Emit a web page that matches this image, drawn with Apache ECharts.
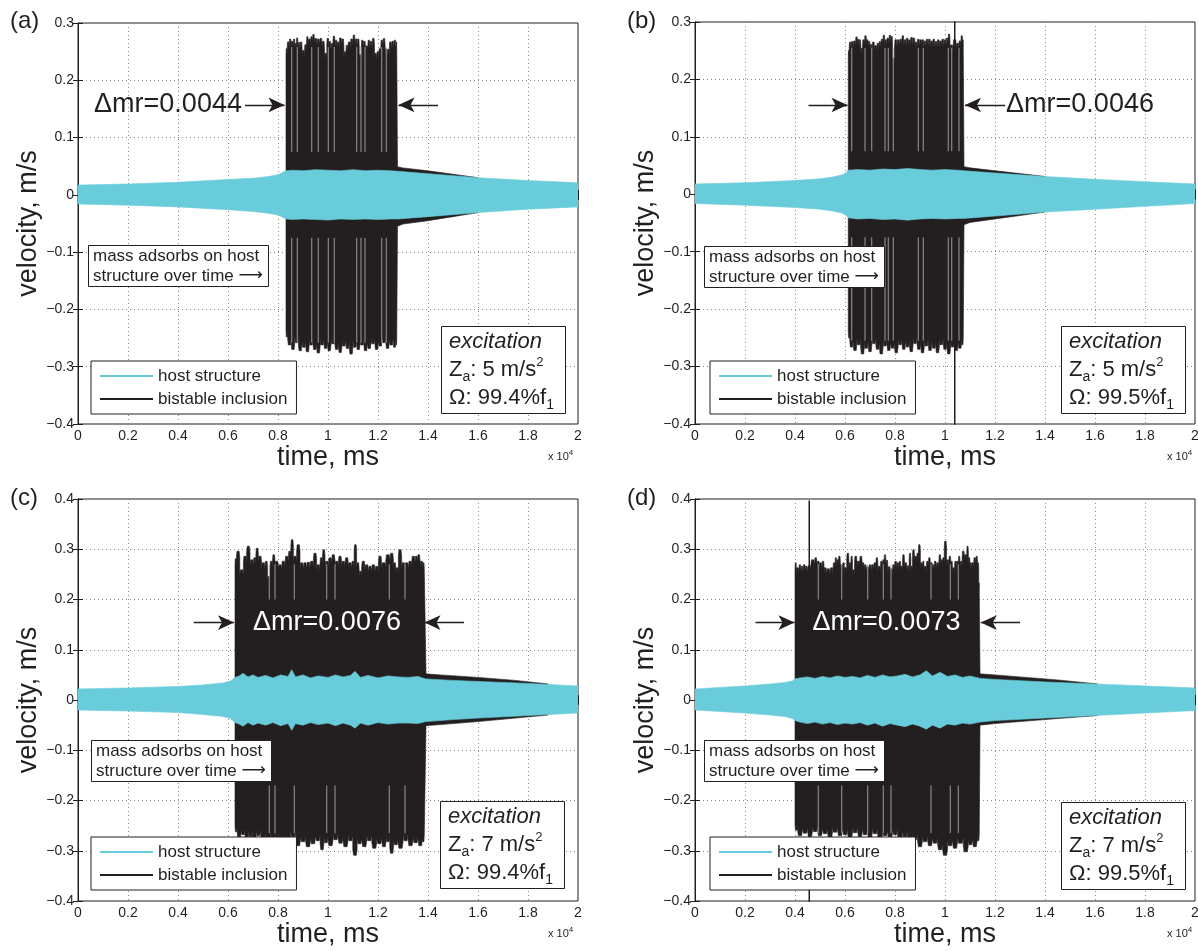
<!DOCTYPE html>
<html><head><meta charset="utf-8">
<script src="https://cdn.jsdelivr.net/npm/echarts/dist/echarts.min.js"></script>
<style>html,body{margin:0;padding:0;background:#fff}#chart{width:1198px;height:951px}</style>
</head><body><div id="chart"></div>
<script>
// ---------- DATA (time in units of 1e4 ms, velocity in m/s) ----------
// Panel (a)
const A_hostX  = [0,0.2,0.4,0.6,0.7,0.76,0.8,0.815,0.83,0.86,0.9,0.95,1.0,1.05,1.1,1.15,1.2,1.25,1.28,1.4,1.6,1.8,2.0];
const A_hostUp = [0.017,0.019,0.022,0.027,0.029,0.032,0.035,0.038,0.042,0.043,0.042,0.044,0.043,0.042,0.044,0.042,0.043,0.042,0.041,0.037,0.030,0.025,0.021];
const A_hostLo = [-0.016,-0.018,-0.021,-0.026,-0.029,-0.032,-0.035,-0.038,-0.042,-0.043,-0.042,-0.043,-0.044,-0.042,-0.043,-0.042,-0.043,-0.042,-0.042,-0.038,-0.031,-0.025,-0.021];
const A_burstX  = [0.832,0.841,0.848,0.857,0.865,0.871,0.876,0.884,0.892,0.901,0.911,0.917,0.925,0.935,0.941,0.951,0.961,0.972,0.981,0.991,0.999,1.008,1.015,1.024,1.032,1.041,1.049,1.059,1.068,1.075,1.084,1.095,1.104,1.112,1.121,1.129,1.137,1.145,1.155,1.163,1.172,1.181,1.191,1.199,1.207,1.215,1.224,1.233,1.241,1.249,1.259,1.268,1.275];
const A_burstUp = [0.255,0.267,0.272,0.268,0.272,0.264,0.274,0.266,0.267,0.252,0.262,0.276,0.272,0.276,0.280,0.273,0.272,0.273,0.268,0.247,0.273,0.268,0.264,0.277,0.270,0.267,0.274,0.272,0.250,0.261,0.267,0.272,0.279,0.272,0.272,0.245,0.270,0.268,0.260,0.270,0.268,0.273,0.247,0.250,0.255,0.270,0.273,0.255,0.254,0.267,0.268,0.270,0.267];
const A_burstLoX = [0.832,0.845,0.86,0.874,0.889,0.903,0.918,0.932,0.947,0.961,0.976,0.99,1.005,1.02,1.034,1.049,1.063,1.078,1.092,1.107,1.121,1.136,1.15,1.165,1.18,1.194,1.209,1.224,1.238,1.253,1.268,1.275];
const A_burstLo  = [-0.248,-0.262,-0.270,-0.258,-0.272,-0.266,-0.274,-0.262,-0.270,-0.276,-0.262,-0.268,-0.272,-0.260,-0.270,-0.275,-0.264,-0.268,-0.278,-0.266,-0.270,-0.262,-0.272,-0.268,-0.260,-0.270,-0.264,-0.258,-0.268,-0.262,-0.266,-0.262];
const A_tailX  = [1.278,1.3,1.4,1.5,1.6];
const A_tailUp = [0.049,0.047,0.042,0.036,0.030];
const A_tailLo = [-0.055,-0.051,-0.045,-0.038,-0.031];
const A_streakX = [0.855,0.877,0.935,0.961,1.001,1.025,1.115,1.132,1.148,1.215,1.233];
const A_streakSpan = [0.258,0.075,-0.075,-0.258];

// Panel (b)
const B_hostX  = [0,0.2,0.4,0.5,0.55,0.59,0.605,0.613,0.65,0.7,0.75,0.8,0.85,0.9,0.95,1.0,1.05,1.075,1.2,1.4,1.6,1.8,2.0];
const B_hostUp = [0.018,0.020,0.024,0.027,0.030,0.034,0.038,0.042,0.043,0.042,0.044,0.043,0.045,0.043,0.042,0.043,0.042,0.041,0.037,0.031,0.026,0.022,0.018];
const B_hostLo = [-0.016,-0.019,-0.023,-0.026,-0.029,-0.033,-0.037,-0.041,-0.043,-0.042,-0.044,-0.043,-0.045,-0.043,-0.042,-0.043,-0.042,-0.042,-0.038,-0.031,-0.026,-0.021,-0.016];
const B_burstX  = [0.613,0.62,0.629,0.637,0.647,0.653,0.66,0.667,0.673,0.683,0.689,0.697,0.704,0.713,0.723,0.731,0.74,0.747,0.756,0.763,0.771,0.78,0.787,0.793,0.803,0.813,0.823,0.831,0.84,0.849,0.856,0.867,0.876,0.884,0.893,0.903,0.911,0.92,0.928,0.937,0.947,0.955,0.964,0.973,0.981,0.991,1.0,1.009,1.016,1.024,1.04,1.051,1.059,1.068,1.073];
const B_burstUp = [0.25,0.265,0.266,0.267,0.274,0.27,0.269,0.254,0.269,0.276,0.269,0.266,0.261,0.265,0.259,0.263,0.266,0.27,0.277,0.269,0.272,0.277,0.275,0.237,0.269,0.269,0.27,0.276,0.269,0.272,0.269,0.273,0.272,0.265,0.27,0.269,0.269,0.267,0.27,0.27,0.267,0.27,0.266,0.269,0.267,0.27,0.269,0.272,0.279,0.26,0.269,0.263,0.267,0.276,0.269];
const B_burstLoX = [0.613,0.625,0.64,0.655,0.67,0.685,0.70,0.715,0.73,0.745,0.76,0.775,0.79,0.805,0.82,0.835,0.85,0.865,0.88,0.895,0.91,0.925,0.94,0.955,0.97,0.985,1.0,1.015,1.03,1.045,1.06,1.073];
const B_burstLo  = [-0.25,-0.266,-0.272,-0.262,-0.278,-0.268,-0.274,-0.26,-0.27,-0.278,-0.264,-0.272,-0.268,-0.276,-0.262,-0.27,-0.266,-0.274,-0.26,-0.27,-0.276,-0.264,-0.272,-0.268,-0.276,-0.262,-0.27,-0.278,-0.266,-0.272,-0.268,-0.262];
const B_tailX  = [1.076,1.1,1.2,1.3,1.4];
const B_tailUp = [0.048,0.046,0.041,0.036,0.031];
const B_tailLo = [-0.053,-0.049,-0.043,-0.037,-0.031];
const B_spikeX = [1.039,1.039];
const B_spikeY = [0.35,-0.45];
const B_streakX = [0.627,0.68,0.707,0.76,0.773,0.793,0.893,0.913,1.013,1.027,1.056];
const B_streakSpan = [0.255,0.075,-0.075,-0.255];

// Panel (c)
const C_hostX  = [0,0.2,0.4,0.5,0.58,0.61,0.628,0.645,0.66,0.68,0.7,0.72,0.75,0.78,0.81,0.84,0.855,0.87,0.9,0.93,0.96,1.0,1.03,1.06,1.09,1.108,1.13,1.16,1.2,1.24,1.28,1.32,1.36,1.39,1.5,1.6,1.8,2.0];
const C_hostUp = [0.022,0.024,0.027,0.030,0.034,0.038,0.045,0.048,0.053,0.046,0.05,0.045,0.049,0.044,0.05,0.047,0.06,0.046,0.05,0.044,0.048,0.045,0.05,0.046,0.049,0.057,0.045,0.049,0.044,0.048,0.046,0.045,0.047,0.042,0.039,0.037,0.033,0.028];
const C_hostLo = [-0.02,-0.022,-0.025,-0.029,-0.033,-0.037,-0.045,-0.048,-0.052,-0.045,-0.05,-0.046,-0.05,-0.045,-0.051,-0.047,-0.06,-0.047,-0.05,-0.045,-0.049,-0.046,-0.051,-0.046,-0.05,-0.056,-0.046,-0.05,-0.045,-0.048,-0.046,-0.046,-0.047,-0.043,-0.039,-0.036,-0.031,-0.026];
const C_burstX  = [0.628,0.639,0.655,0.668,0.681,0.695,0.708,0.715,0.728,0.741,0.755,0.761,0.775,0.781,0.795,0.808,0.821,0.835,0.848,0.855,0.868,0.881,0.895,0.908,0.921,0.935,0.948,0.961,0.975,0.981,0.995,1.008,1.021,1.035,1.048,1.061,1.075,1.088,1.101,1.108,1.121,1.128,1.141,1.155,1.168,1.181,1.195,1.208,1.221,1.241,1.255,1.268,1.275,1.288,1.301,1.315,1.328,1.341,1.355,1.361,1.375,1.385];
const C_burstUp = [0.281,0.296,0.259,0.286,0.306,0.279,0.283,0.302,0.286,0.273,0.276,0.246,0.276,0.289,0.276,0.269,0.276,0.286,0.296,0.319,0.286,0.309,0.273,0.273,0.274,0.276,0.292,0.269,0.283,0.299,0.276,0.283,0.289,0.276,0.286,0.276,0.283,0.273,0.276,0.309,0.273,0.256,0.276,0.269,0.266,0.269,0.266,0.286,0.273,0.289,0.292,0.273,0.263,0.299,0.273,0.273,0.276,0.286,0.286,0.289,0.276,0.273];
const C_burstLoX = [0.628,0.645,0.66,0.675,0.69,0.705,0.72,0.74,0.76,0.78,0.80,0.82,0.84,0.86,0.88,0.90,0.92,0.94,0.96,0.977,0.99,1.01,1.03,1.05,1.07,1.09,1.108,1.125,1.145,1.165,1.185,1.205,1.225,1.24,1.254,1.27,1.29,1.31,1.33,1.35,1.37,1.385];
const C_burstLo  = [-0.262,-0.275,-0.268,-0.28,-0.272,-0.285,-0.27,-0.278,-0.288,-0.275,-0.292,-0.28,-0.284,-0.272,-0.29,-0.282,-0.292,-0.286,-0.28,-0.298,-0.284,-0.29,-0.278,-0.285,-0.292,-0.28,-0.309,-0.286,-0.292,-0.28,-0.295,-0.286,-0.292,-0.282,-0.305,-0.288,-0.295,-0.28,-0.29,-0.284,-0.29,-0.282];
const C_tailX  = [1.392,1.45,1.6,1.75,1.88];
const C_tailUp = [0.052,0.05,0.045,0.039,0.032];
const C_tailLo = [-0.051,-0.049,-0.043,-0.036,-0.03];
const C_streakX = [0.765,0.788,0.865,0.995,1.028,1.245,1.308];
const C_streakSpan = [0.27,0.2,-0.17,-0.265];

// Panel (d)
const D_hostX  = [0,0.1,0.2,0.3,0.36,0.39,0.40,0.42,0.45,0.48,0.51,0.54,0.57,0.6,0.63,0.66,0.69,0.72,0.75,0.78,0.81,0.84,0.87,0.9,0.925,0.95,0.98,1.01,1.04,1.07,1.1,1.14,1.2,1.4,1.6,1.8,2.0];
const D_hostUp = [0.022,0.025,0.028,0.032,0.035,0.038,0.042,0.044,0.046,0.043,0.047,0.044,0.048,0.045,0.047,0.044,0.049,0.045,0.05,0.046,0.048,0.051,0.046,0.05,0.058,0.048,0.055,0.047,0.05,0.045,0.048,0.043,0.041,0.036,0.032,0.028,0.024];
const D_hostLo = [-0.02,-0.023,-0.026,-0.03,-0.033,-0.037,-0.041,-0.044,-0.047,-0.044,-0.048,-0.045,-0.049,-0.046,-0.048,-0.045,-0.05,-0.046,-0.052,-0.047,-0.05,-0.053,-0.048,-0.052,-0.058,-0.05,-0.056,-0.048,-0.05,-0.046,-0.048,-0.044,-0.041,-0.036,-0.031,-0.026,-0.021];
const D_burstX  = [0.400,0.411,0.420,0.427,0.437,0.447,0.453,0.473,0.483,0.493,0.503,0.513,0.520,0.533,0.547,0.557,0.563,0.571,0.576,0.587,0.593,0.603,0.611,0.620,0.627,0.633,0.643,0.653,0.664,0.673,0.680,0.691,0.700,0.709,0.720,0.727,0.736,0.747,0.753,0.760,0.767,0.776,0.787,0.793,0.803,0.811,0.820,0.827,0.833,0.843,0.853,0.860,0.867,0.873,0.883,0.891,0.896,0.907,0.913,0.920,0.931,0.936,0.947,0.953,0.960,0.971,0.980,0.987,0.993,1.001,1.011,1.020,1.027,1.033,1.043,1.051,1.056,1.064,1.073,1.083,1.091,1.096,1.104,1.109,1.120,1.127,1.133,1.137];
const D_burstUp = [0.273,0.263,0.269,0.266,0.269,0.266,0.267,0.279,0.283,0.276,0.273,0.276,0.263,0.261,0.263,0.273,0.283,0.279,0.286,0.269,0.273,0.263,0.292,0.273,0.286,0.259,0.286,0.276,0.286,0.273,0.269,0.265,0.269,0.269,0.273,0.283,0.266,0.276,0.279,0.289,0.278,0.265,0.261,0.269,0.276,0.273,0.276,0.266,0.289,0.273,0.267,0.292,0.266,0.299,0.286,0.292,0.309,0.273,0.276,0.266,0.276,0.283,0.273,0.269,0.276,0.273,0.289,0.279,0.283,0.316,0.279,0.286,0.276,0.263,0.276,0.276,0.286,0.276,0.296,0.289,0.306,0.283,0.273,0.273,0.283,0.286,0.273,0.233];
const D_burstLoX = [0.40,0.42,0.44,0.46,0.48,0.50,0.52,0.54,0.56,0.58,0.60,0.62,0.64,0.66,0.68,0.70,0.72,0.74,0.76,0.78,0.80,0.82,0.84,0.86,0.88,0.90,0.92,0.94,0.96,0.98,1.0,1.02,1.04,1.06,1.086,1.10,1.12,1.137];
const D_burstLo  = [-0.259,-0.27,-0.265,-0.272,-0.262,-0.27,-0.266,-0.275,-0.263,-0.27,-0.268,-0.276,-0.264,-0.272,-0.268,-0.274,-0.266,-0.278,-0.27,-0.276,-0.268,-0.28,-0.272,-0.285,-0.278,-0.292,-0.282,-0.29,-0.285,-0.298,-0.309,-0.29,-0.295,-0.285,-0.302,-0.288,-0.292,-0.28];
const D_tailX  = [1.14,1.2,1.3,1.45,1.61];
const D_tailUp = [0.052,0.05,0.046,0.04,0.032];
const D_tailLo = [-0.05,-0.047,-0.043,-0.037,-0.031];
const D_spikeX = [0.457,0.457];
const D_spikeY = [0.397,-0.45];
const D_streakX = [0.493,0.587,0.691,0.753,0.784,0.944,1.021,1.053];
const D_streakSpan = [0.27,0.2,-0.17,-0.265];

// ---------- CHART ----------
const FONT = '"Liberation Sans", Arial, Helvetica, sans-serif';
const INK = '#231F20';
const CYAN = '#69CCDA';

function pairs(xs, ys) { return xs.map((x, i) => [x, ys[i]]); }
// burst edge drawn as flat-topped bars centred on each reading
function steps(xs, ys) {
  const out = [];
  const n = xs.length;
  for (let i = 0; i < n; i++) {
    const x0 = i === 0 ? xs[0] : (xs[i - 1] + xs[i]) / 2;
    const x1 = i === n - 1 ? xs[n - 1] : (xs[i] + xs[i + 1]) / 2;
    const w = (x1 - x0) * 0.18;
    out.push([x0, ys[i] - 0.012], [x0 + w, ys[i]], [x1 - w, ys[i]], [x1, ys[i] - 0.012]);
  }
  return out;
}
function inclusion(bx, bu, blx, bl, tx, tu, tl) {
  const up = steps(bx, bu);
  const lo = steps(blx, bl.map(v => -v)).map(p => [p[0], -p[1]]);
  return up.concat(pairs(tx, tu), pairs(tx, tl).reverse(), lo.reverse());
}
function hostEnv(x, u, l) { return pairs(x, u).concat(pairs(x, l).reverse()); }

const panels = [
  { grid:{left:78, top:23, width:500, height:401}, ymin:-0.4, ymax:0.3, label:'(a)', labelPos:[10,9],
    host: hostEnv(A_hostX, A_hostUp, A_hostLo),
    incl: inclusion(A_burstX, A_burstUp, A_burstLoX, A_burstLo, A_tailX, A_tailUp, A_tailLo),
    spike: null, streakX: A_streakX, streakSpan: A_streakSpan,
    dmr: {text:'Δmr=0.0044', x:0.36, y:0.157, color:INK},
    arrows: [[0.668,0.826,0.157],[1.44,1.282,0.157]],
    mass:[88,245], exc:[441,326], legend:[91,361], xexp:[548,449],
    za:'5', om:'99.4' },
  { grid:{left:695, top:22, width:500, height:402}, ymin:-0.4, ymax:0.3, label:'(b)', labelPos:[627,9],
    host: hostEnv(B_hostX, B_hostUp, B_hostLo),
    incl: inclusion(B_burstX, B_burstUp, B_burstLoX, B_burstLo, B_tailX, B_tailUp, B_tailLo),
    spike: pairs(B_spikeX, B_spikeY), streakX: B_streakX, streakSpan: B_streakSpan,
    dmr: {text:'Δmr=0.0046', x:1.54, y:0.1555, color:INK},
    arrows: [[0.454,0.61,0.1555],[1.24,1.08,0.1555]],
    mass:[704,246], exc:[1061,326], legend:[710,361], xexp:[1167,449],
    za:'5', om:'99.5' },
  { grid:{left:78, top:499, width:500, height:402}, ymin:-0.4, ymax:0.4, label:'(c)', labelPos:[10,486],
    host: hostEnv(C_hostX, C_hostUp, C_hostLo),
    incl: inclusion(C_burstX, C_burstUp, C_burstLoX, C_burstLo, C_tailX, C_tailUp, C_tailLo),
    spike: null, streakX: C_streakX, streakSpan: C_streakSpan,
    dmr: {text:'Δmr=0.0076', x:0.996, y:0.154, color:'#ffffff'},
    arrows: [[0.463,0.624,0.154],[1.544,1.386,0.154]],
    mass:[91,740], exc:[440,801], legend:[91,837], xexp:[548,926],
    za:'7', om:'99.4' },
  { grid:{left:695, top:499, width:500, height:402}, ymin:-0.4, ymax:0.4, label:'(d)', labelPos:[627,486],
    host: hostEnv(D_hostX, D_hostUp, D_hostLo),
    incl: inclusion(D_burstX, D_burstUp, D_burstLoX, D_burstLo, D_tailX, D_tailUp, D_tailLo),
    spike: pairs(D_spikeX, D_spikeY), streakX: D_streakX, streakSpan: D_streakSpan,
    dmr: {text:'Δmr=0.0073', x:0.766, y:0.154, color:'#ffffff'},
    arrows: [[0.242,0.398,0.154],[1.30,1.143,0.154]],
    mass:[704,740], exc:[1061,802], legend:[710,837], xexp:[1167,926],
    za:'7', om:'99.5' }
];

function polySeries(name, pts, idx, color, z) {
  return {
    type:'custom', name, xAxisIndex: 2*idx, yAxisIndex: 2*idx, data: pts,
    encode:{x:0, y:1}, clip:true, silent:true, z,
    itemStyle:{color},
    renderItem(params, api) {
      if (params.dataIndex !== 0) return null;
      return { type:'polygon', shape:{ points: pts.map(p => api.coord(p)) }, style:{ fill: color, stroke: color, lineWidth: 0.6 } };
    }
  };
}
function streakSeries(xs, span, idx) {
  return {
    type:'custom', name:'', xAxisIndex: 2*idx, yAxisIndex: 2*idx, data: xs.map(x => [x, span[0]]),
    encode:{x:0, y:1}, clip:true, silent:true, z:2,
    renderItem(params, api) {
      const x = xs[params.dataIndex];
      const a = api.coord([x, span[0]]), b = api.coord([x, span[1]]);
      const c = api.coord([x, span[2]]), d = api.coord([x, span[3]]);
      const st = { stroke:'#aaa8a8', lineWidth:0.9 };
      return { type:'group', children:[
        { type:'line', shape:{ x1:a[0], y1:a[1], x2:b[0], y2:b[1] }, style:st },
        { type:'line', shape:{ x1:c[0], y1:c[1], x2:d[0], y2:d[1] }, style:st } ] };
    }
  };
}

const grid = [], xAxis = [], yAxis = [], series = [], legend = [], title = [];
const tickFmtX = v => String(+(+v).toFixed(1));
const tickFmtY = v => Math.abs(v) < 1e-9 ? '0' : (+v).toFixed(1).replace('-', '\u2212');

panels.forEach((p, i) => {
  grid.push(Object.assign({ show:true, borderColor:INK, borderWidth:1, backgroundColor:'#fff', containLabel:false, outerBoundsMode:'none' }, p.grid));
  const axLine = { show:true, lineStyle:{ color:INK, width:1 } };
  const tick = { show:true, inside:true, length:5, lineStyle:{ color:INK, width:1 } };
  const split = { show:true, lineStyle:{ color:'#8a8a8a', width:1, type:[1,3] } };
  xAxis.push({ type:'value', gridIndex:i, min:0, max:2, interval:0.2, position:'bottom',
    axisLine:axLine, axisTick:tick, splitLine:split,
    axisLabel:{ show:true, formatter:tickFmtX, color:INK, fontSize:14, fontFamily:FONT, margin:5, showMinLabel:true, showMaxLabel:true, hideOverlap:false },
    name:'time, ms', nameLocation:'middle', nameGap:19,
    nameTextStyle:{ fontSize:27, color:INK, fontFamily:FONT } });
  xAxis.push({ type:'value', gridIndex:i, min:0, max:2, interval:0.2, position:'top',
    axisLine:axLine, axisTick:tick, splitLine:{show:false}, axisLabel:{show:false} });
  yAxis.push({ type:'value', gridIndex:i, min:p.ymin, max:p.ymax, interval:0.1, position:'left',
    axisLine:axLine, axisTick:tick, splitLine:split,
    axisLabel:{ show:true, formatter:tickFmtY, color:INK, fontSize:14, fontFamily:FONT, margin:4, showMinLabel:true, showMaxLabel:true, hideOverlap:false },
    name:'velocity, m/s', nameLocation:'middle', nameGap:31, nameRotate:90,
    nameTextStyle:{ fontSize:27, color:INK, fontFamily:FONT } });
  yAxis.push({ type:'value', gridIndex:i, min:p.ymin, max:p.ymax, interval:0.1, position:'right',
    axisLine:axLine, axisTick:tick, splitLine:{show:false}, axisLabel:{show:false} });

  series.push(polySeries('bistable inclusion', p.incl, i, INK, 2));
  series.push(streakSeries(p.streakX, p.streakSpan, i));
  if (p.spike) {
    series.push({ type:'line', name:'bistable inclusion', xAxisIndex:2*i, yAxisIndex:2*i, data:p.spike,
      showSymbol:false, symbol:'none', clip:true, silent:true, z:2,
      lineStyle:{ color:INK, width:1.5 }, itemStyle:{ color:INK } });
  }
  series.push(polySeries('host structure', p.host, i, CYAN, 3));
  // annotations
  series.push({ type:'line', name:'', xAxisIndex:2*i, yAxisIndex:2*i, data:[], silent:true, z:5,
    markLine:{ silent:true, animation:false, symbol:['none','arrow'], symbolSize:[11,16],
      lineStyle:{ color:INK, width:1.3, type:'solid' }, label:{show:false},
      data: p.arrows.map(a => [{ coord:[a[0], a[2]] }, { coord:[a[1], a[2]] }]) },
    markPoint:{ silent:true, animation:false, symbol:'rect', symbolSize:1, itemStyle:{ color:'rgba(0,0,0,0)' },
      label:{ show:true, position:'inside', color:p.dmr.color, fontSize:27, fontFamily:FONT },
      data:[{ coord:[p.dmr.x, p.dmr.y], label:{ formatter:p.dmr.text } }] } });

  legend.push({ left:p.legend[0], top:p.legend[1], orient:'vertical', selectedMode:false,
    data:['host structure','bistable inclusion'], icon:'rect', itemWidth:53, itemHeight:2, itemGap:3,
    padding:[5,9,5,9], borderColor:INK, borderWidth:1, backgroundColor:'#fff', z:10,
    textStyle:{ fontSize:17, color:INK, fontFamily:FONT, lineHeight:20 } });

  title.push({ text:p.label, left:p.labelPos[0], top:p.labelPos[1], padding:0,
    textStyle:{ fontSize:24, fontWeight:'normal', color:INK, fontFamily:FONT } });
  title.push({ text:'mass adsorbs on host\nstructure over time {ar|\u27F6}', left:p.mass[0], top:p.mass[1],
    padding:[1,6,1,5], borderColor:INK, borderWidth:1, backgroundColor:'#fff', z:10,
    textStyle:{ fontSize:17, fontWeight:'normal', color:INK, fontFamily:FONT, lineHeight:20,
      rich:{ ar:{ fontSize:17, fontFamily:'DejaVu Sans', color:INK, lineHeight:20 } } } });
  title.push({ text:'{it|excitation}\nZ{sub|a}: ' + p.za + ' m/s{sup|2}\n\u03A9: ' + p.om + '%f{sub|1}',
    left:p.exc[0], top:p.exc[1], padding:[2,12,2,8], borderColor:INK, borderWidth:1, backgroundColor:'#fff', z:10,
    textStyle:{ fontSize:22, fontWeight:'normal', color:INK, fontFamily:FONT, lineHeight:28,
      rich:{ it:{ fontSize:22, fontStyle:'italic', fontFamily:FONT, color:INK, lineHeight:28 },
             sub:{ fontSize:14, fontFamily:FONT, color:INK, verticalAlign:'bottom', lineHeight:14 },
             sup:{ fontSize:13, fontFamily:FONT, color:INK, verticalAlign:'top', lineHeight:20 } } } });
  title.push({ text:'x 10{sup|4}', left:p.xexp[0], top:p.xexp[1], padding:0,
    textStyle:{ fontSize:11, fontWeight:'normal', color:INK, fontFamily:FONT, lineHeight:16,
      rich:{ sup:{ fontSize:8, fontFamily:FONT, color:INK, verticalAlign:'top', lineHeight:10 } } } });
});

const chart = echarts.init(document.getElementById('chart'), null, { renderer:'canvas' });
chart.setOption({ animation:false, backgroundColor:'#ffffff', textStyle:{ fontFamily:FONT },
  grid, xAxis, yAxis, series, legend, title, tooltip:{ show:false } });
</script></body></html>
